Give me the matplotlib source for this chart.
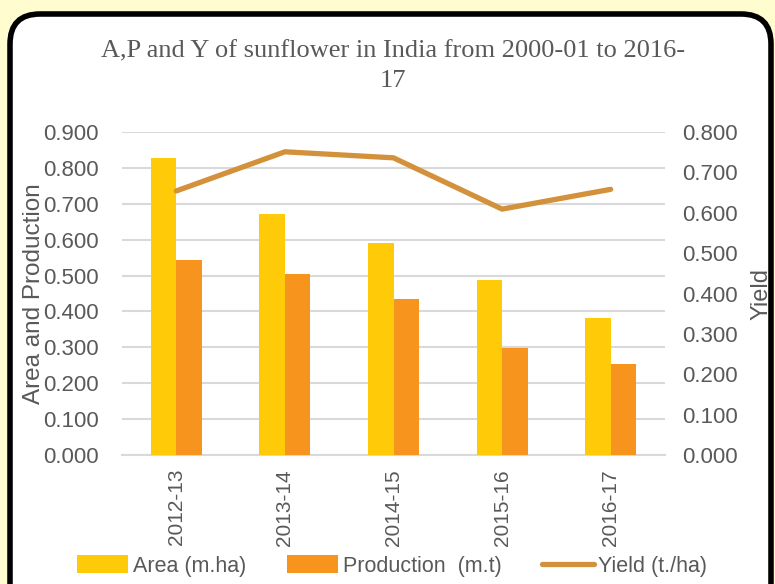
import matplotlib
matplotlib.use('Agg')
import matplotlib.pyplot as plt
import matplotlib.transforms as mtransforms
from matplotlib.patches import FancyBboxPatch
import numpy as np

# 数据
years = ['2012-13', '2013-14', '2014-15', '2015-16', '2016-17']
area = [0.828, 0.671, 0.590, 0.487, 0.382]
production = [0.543, 0.504, 0.435, 0.298, 0.253]
yield_ = [0.654, 0.751, 0.736, 0.609, 0.658]

c_area = '#FFCA08'
c_prod = '#F7941D'
c_yield = '#D4913B'
grey = '#595959'
plt.rcParams['font.family'] = ['Liberation Sans', 'DejaVu Sans']

fig = plt.figure(figsize=(7.75, 5.84), dpi=100)
fig.patch.set_facecolor('#FFFDD0')

# 圆角外框
frame = FancyBboxPatch((10, -30), 761, 600, boxstyle='round,pad=0,rounding_size=30',
                       transform=mtransforms.IdentityTransform(),
                       facecolor='white', edgecolor='black', linewidth=4, zorder=-5)
fig.patches.append(frame)

ax = fig.add_axes([122 / 775, 1 - 455 / 584, 543 / 775, 323 / 584])
ax.set_facecolor('none')
x = np.arange(len(years))
w = 0.235
b1 = ax.bar(x - w / 2, area, w, color=c_area, label='Area (m.ha)', zorder=3)
b2 = ax.bar(x + w / 2, production, w, color=c_prod, label='Production  (m.t)', zorder=3)
ax.set_xlim(-0.5, 4.5)
ax.set_ylim(0, 0.9)
ax.set_yticks(np.arange(0, 0.91, 0.1))
ax.set_yticklabels(['%.3f' % v for v in np.arange(0, 0.91, 0.1)])
ax.set_xticks(x)
ax.set_xticklabels(years, rotation=90)
ax.grid(axis='y', color='#D9D9D9', linewidth=1.5, zorder=0)
for s in ['top', 'left', 'right']:
    ax.spines[s].set_visible(False)
ax.spines['bottom'].set_color('#D9D9D9')
ax.spines['bottom'].set_linewidth(1.5)
ax.tick_params(length=0, colors=grey)
ax.tick_params(axis='x', labelsize=15, pad=10)
ax.tick_params(axis='y', labelsize=16, pad=17)
ax.set_ylabel('Area and Production', fontsize=17.5, color=grey)
ax.yaxis.set_label_coords(-0.141, 0.5)

ax2 = ax.twinx()
ln, = ax2.plot(x, yield_, color=c_yield, linewidth=3.8, label='Yield (t./ha)', zorder=4,
               solid_capstyle='round')
ax2.set_ylim(0, 0.8)
ax2.set_yticks(np.arange(0, 0.81, 0.1))
ax2.set_yticklabels(['%.3f' % v for v in np.arange(0, 0.81, 0.1)])
for s in ax2.spines.values():
    s.set_visible(False)
ax2.tick_params(length=0, labelsize=16, colors=grey, pad=12)
ax2.set_ylabel('Yield', fontsize=17, color=grey)
ax2.yaxis.set_label_coords(1.158, 0.5)

fig.text(393 / 775, 1 - 66 / 584, 'A,P and Y of sunflower in India from 2000-01 to 2016-\n17',
         ha='center', va='center', fontsize=19, color=grey, family='Liberation Serif',
         linespacing=1.45)

fig.legend(handles=[b1, b2, ln], loc='center', bbox_to_anchor=(392 / 775, 1 - 566 / 584),
           ncol=3, frameon=False, fontsize=15.5, handlelength=2.4, handleheight=0.9,
           handletextpad=0.2, columnspacing=1.9, labelcolor=grey)

fig.savefig('out.png', dpi=100, facecolor=fig.get_facecolor())
